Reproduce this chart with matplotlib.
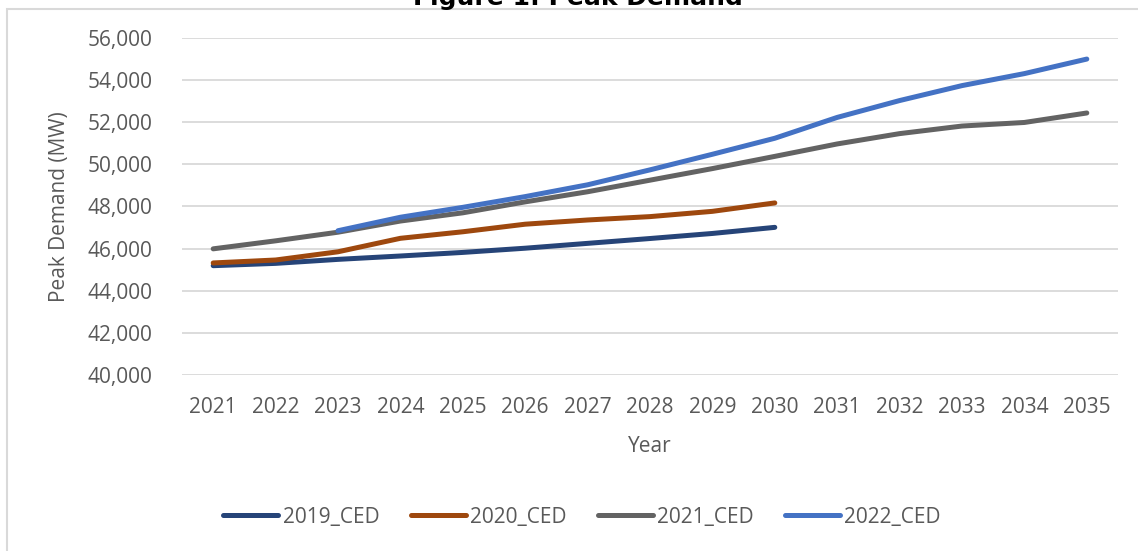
import matplotlib
matplotlib.use("Agg")
import matplotlib.pyplot as plt
from matplotlib.patches import Rectangle
from matplotlib.ticker import FuncFormatter

years = list(range(2021, 2036))
years_2019 = list(range(2021, 2031))
years_2020 = list(range(2021, 2031))
years_2021 = list(range(2021, 2036))
years_2022 = list(range(2023, 2036))

ced_2019 = [45190, 45300, 45490, 45650, 45820, 46020, 46250, 46480, 46720, 47010]
ced_2020 = [45320, 45460, 45850, 46490, 46800, 47160, 47360, 47520, 47770, 48170]
ced_2021 = [45990, 46370, 46780, 47310, 47700, 48220, 48700, 49250, 49800, 50380,
            50970, 51460, 51820, 51990, 52440]
ced_2022 = [46850, 47490, 47960, 48470, 49030, 49740, 50480, 51240, 52230, 53030,
            53740, 54310, 55000]

series_names = ["2019_CED", "2020_CED", "2021_CED", "2022_CED"]
colors = ["#264478", "#9E480E", "#636363", "#4472C4"]

y_ticks = list(range(40000, 56001, 2000))

plt.rcParams['font.family'] = ['Open Sans', 'DejaVu Sans']
text_color = "#595959"

W, H = 1138, 551
fig = plt.figure(figsize=(W / 100, H / 100), dpi=100)
ax = fig.add_axes([182 / W, 1 - 375 / H, (1118 - 182) / W, (375 - 38) / H])

data = [(years_2019, ced_2019), (years_2020, ced_2020),
        (years_2021, ced_2021), (years_2022, ced_2022)]
for (xs, ys), name, c in zip(data, series_names, colors):
    ax.plot(xs, ys, color=c, lw=3.6, label=name,
            solid_capstyle='round', solid_joinstyle='round', zorder=3)

ax.set_xlim(2020.5, 2035.5)
ax.set_ylim(40000, 56000)
ax.set_yticks(y_ticks)
ax.yaxis.set_major_formatter(FuncFormatter(lambda v, p: f"{int(v):,}"))
ax.set_xticks(years)
ax.set_xticklabels([str(y) for y in years])
ax.grid(axis='y', color='#D9D9D9', lw=1.3, zorder=0)
ax.set_axisbelow(True)
for s in ax.spines.values():
    s.set_visible(False)
ax.tick_params(axis='both', length=0, labelsize=15, colors=text_color)
ax.tick_params(axis='y', pad=21)
ax.tick_params(axis='x', pad=16)

fig.text(650 / W, 1 - 446 / H, "Year", ha='center', va='center',
         fontsize=15, color=text_color)
fig.text(60 / W, 1 - 206.5 / H, "Peak Demand (MW)", ha='center', va='center',
         rotation=90, fontsize=15, color=text_color)

fig.text(578 / W, 1 - 5 / H, "Figure 1: Peak Demand", ha='center', va='baseline',
         fontsize=18, fontweight='bold', color='black', family='DejaVu Sans')

leg = fig.legend(loc='center', bbox_to_anchor=(582 / W, 1 - 517 / H),
                 ncol=4, frameon=False, fontsize=15, handlelength=2.65,
                 handletextpad=0.2, columnspacing=1.5, labelcolor=text_color)
for line in leg.get_lines():
    line.set_solid_capstyle('round')

fig.patches.append(Rectangle((7 / W, -0.1), 1.2, 1.1 - 9 / H, transform=fig.transFigure,
                             fill=False, edgecolor='#D9D9D9', lw=1.5, clip_on=False))

fig.savefig("out.png", dpi=100)
